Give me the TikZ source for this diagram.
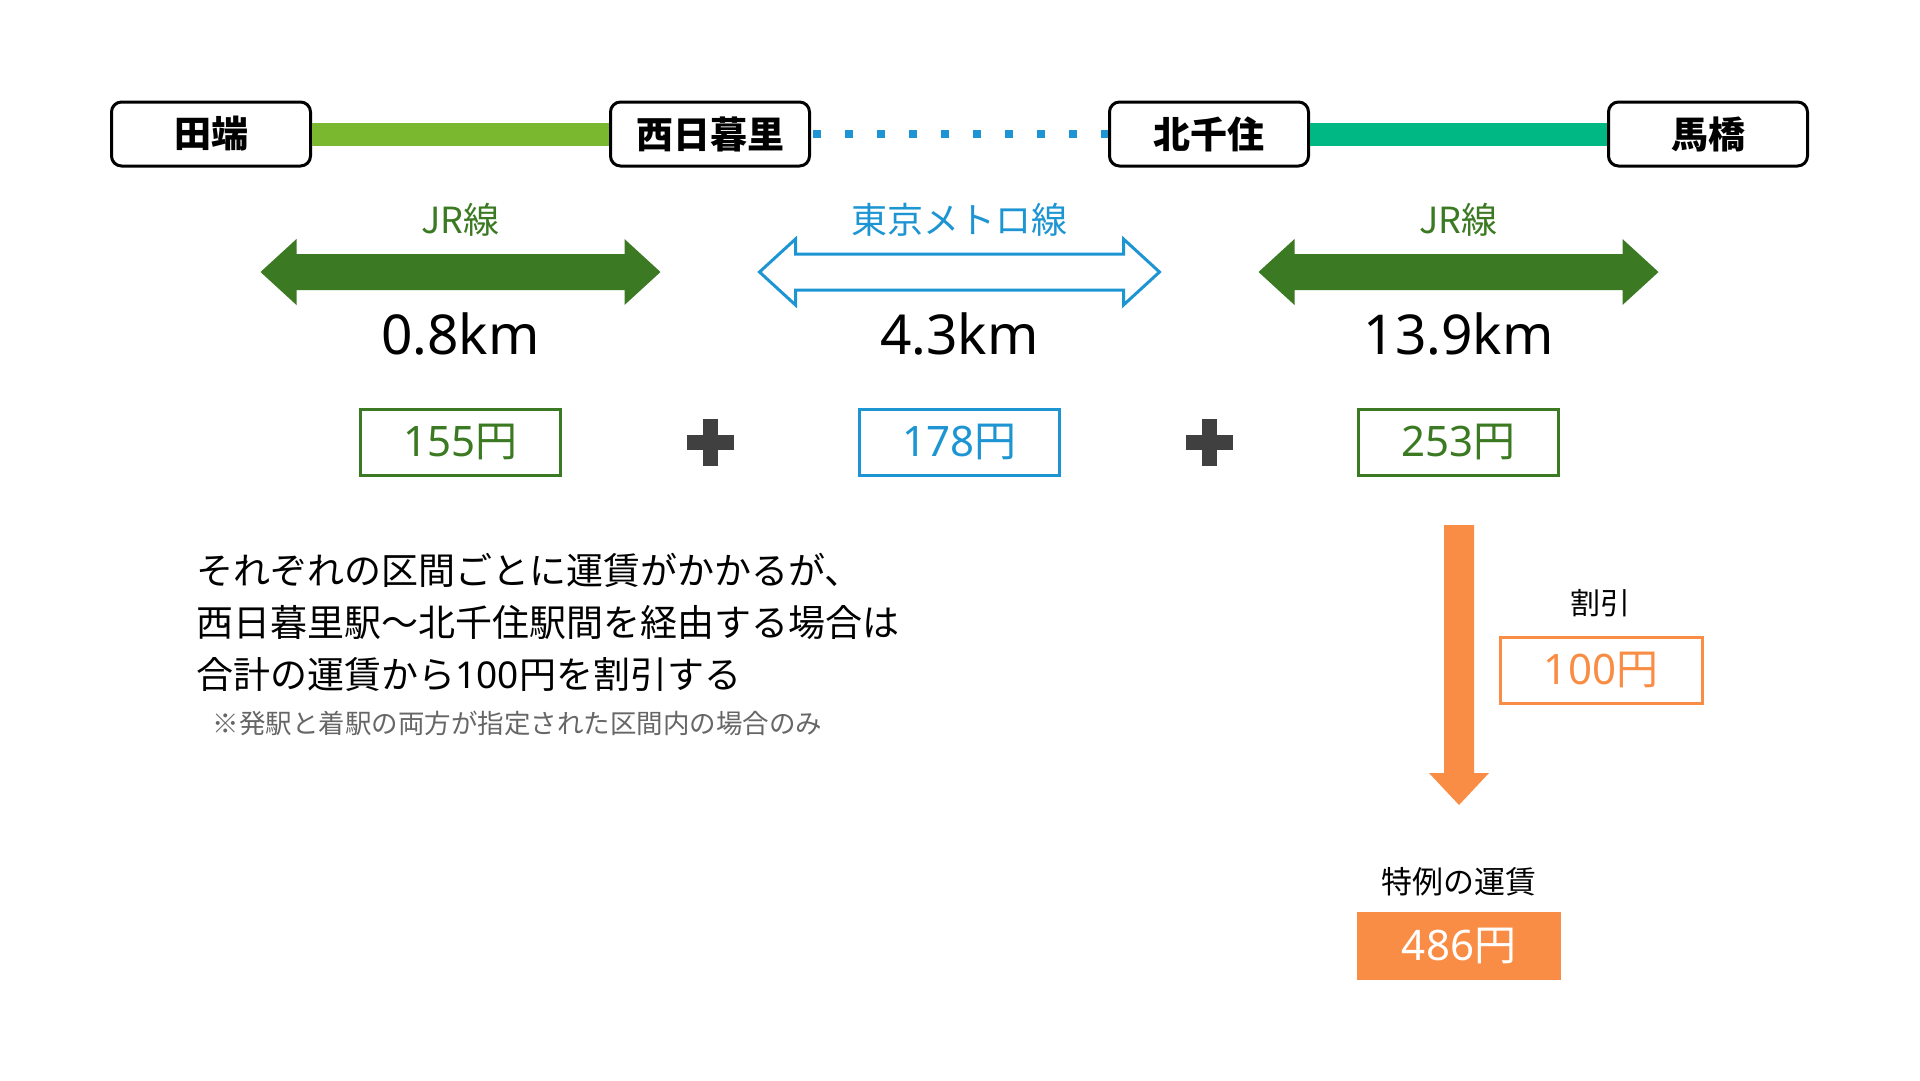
\documentclass[tikz,border=0pt]{standalone}
\usepackage{fontspec}
\newfontfamily\jpfont{Noto Sans CJK JP}
\newfontfamily\enfont{Noto Sans}
\definecolor{jrgreen}{HTML}{3B7A23}
\definecolor{lightgreen}{HTML}{7AB92F}
\definecolor{tealgreen}{HTML}{00B884}
\definecolor{metroblue}{HTML}{1E95D3}
\definecolor{fareorange}{HTML}{FA8D45}
\definecolor{plusgray}{HTML}{404040}
\tikzset{
  station/.style={draw=black, line width=3pt, rounded corners=10pt, fill=white,
    minimum width=199pt, minimum height=64pt, inner sep=0pt,
    font=\jpfont\bfseries\fontsize{37}{37}\selectfont},
  farebox/.style={line width=3pt, minimum width=200pt, minimum height=66pt, inner sep=0pt,
    font=\jpfont\fontsize{42}{42}\selectfont},
  linelabel/.style={font=\jpfont\fontsize{36}{36}\selectfont},
  kmlabel/.style={font=\enfont\fontsize{55}{55}\selectfont},
}
\begin{document}
\begin{tikzpicture}[x=1pt, y=-1pt]
    \useasboundingbox (0,0) rectangle (1920,1080);

    % stations
    \node[station] (tabata) at (211,134) {田端};
    \node[station] (nishinippori) at (710,134) {西日暮里};
    \node[station] (kitasenju) at (1209,134) {北千住};
    \node[station] (mabashi) at (1708,134) {馬橋};

    \draw[lightgreen, line width=23pt] (tabata) -- (nishinippori);
    \draw[metroblue, line width=8pt, dash pattern=on 8pt off 24pt] (nishinippori.east) ++(2,0) -- (kitasenju.west);
    \draw[tealgreen, line width=23pt] (kitasenju) -- (mabashi);

    % sections
    \node[linelabel, jrgreen] (jr1) at (460.5,220) {JR線};
    \node[linelabel, metroblue] (metro) at (959.5,220) {東京メトロ線};
    \node[linelabel, jrgreen] (jr2) at (1458.5,220) {JR線};

    \fill[jrgreen] (260.5,272) -- ++(36,-33) -- ++(0,15) -- ++(328,0) -- ++(0,-15) -- ++(36,33)
      -- ++(-36,33) -- ++(0,-15) -- ++(-328,0) -- ++(0,15) -- cycle;
    \draw[metroblue, line width=3pt, fill=white, line join=miter] (759.5,272) -- ++(36,-33) -- ++(0,15) -- ++(328,0) -- ++(0,-15) -- ++(36,33)
      -- ++(-36,33) -- ++(0,-15) -- ++(-328,0) -- ++(0,15) -- cycle;
    \fill[jrgreen] (1258.5,272) -- ++(36,-33) -- ++(0,15) -- ++(328,0) -- ++(0,-15) -- ++(36,33)
      -- ++(-36,33) -- ++(0,-15) -- ++(-328,0) -- ++(0,15) -- cycle;

    \node[kmlabel] (km1) at (460.5,334) {0.8km};
    \node[kmlabel] (km2) at (959.5,334) {4.3km};
    \node[kmlabel] (km3) at (1458.5,334) {13.9km};

    % fares
    \node[farebox, draw=jrgreen, text=jrgreen] (fare1) at (460.5,442) {{\enfont 155}円};
    \node[farebox, draw=metroblue, text=metroblue] (fare2) at (959.5,442) {{\enfont 178}円};
    \node[farebox, draw=jrgreen, text=jrgreen] (fare3) at (1458.5,442) {{\enfont 253}円};

    \foreach \x in {710,1209} {
      \fill[plusgray] (\x-23.5,434.5) rectangle (\x+23.5,449.5);
      \fill[plusgray] (\x-7.5,418.5) rectangle (\x+7.5,465.5);
    }

    \node[anchor=west, align=left, font=\jpfont\fontsize{37}{52}\selectfont] (rule) at (193,622)
      {それぞれの区間ごとに運賃がかかるが、\\西日暮里駅～北千住駅間を経由する場合は\\合計の運賃から{\enfont 100}円を割引する};
    \node[anchor=west, text=black!60, font=\jpfont\fontsize{26.5}{26.5}\selectfont] (note) at (209,723)
      {※発駅と着駅の両方が指定された区間内の場合のみ};

    % discount
    \fill[fareorange] (1444,525) -- (1474,525) -- (1474,773) -- (1489,773) -- (1459,805)
      -- (1429,773) -- (1444,773) -- cycle;
    \node[font=\jpfont\fontsize{30}{30}\selectfont] (waribiki) at (1600,603) {割引};
    \node[farebox, draw=fareorange, text=fareorange, minimum width=202pt] (discount) at (1601,670) {{\enfont 100}円};

    \node[font=\jpfont\fontsize{31}{31}\selectfont] (tokurei) at (1459,882) {特例の運賃};
    \node[farebox, fill=fareorange, text=white, minimum width=204pt, minimum height=68pt] (total) at (1459,946) {{\enfont 486}円};
\end{tikzpicture}
\end{document}
